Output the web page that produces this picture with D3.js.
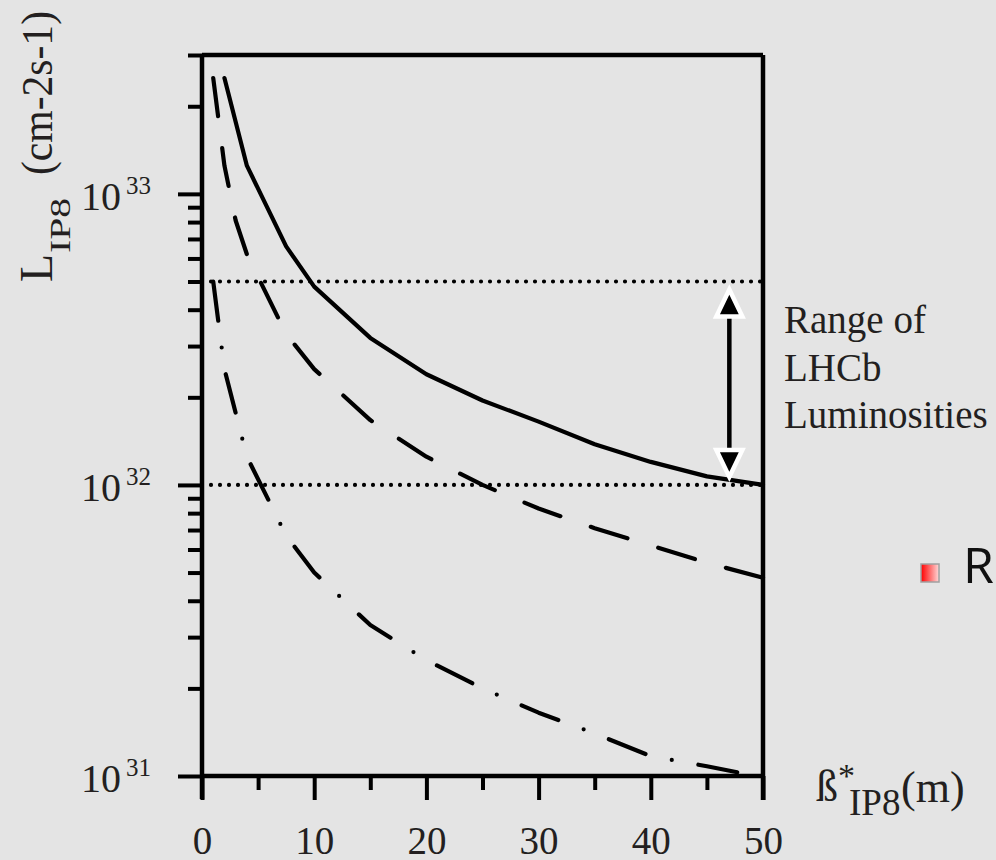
<!DOCTYPE html>
<html>
<head>
<meta charset="utf-8">
<script src="https://cdn.jsdelivr.net/npm/d3@7"></script>
<style>
	html, body { margin: 0; padding: 0; background: #e4e4e4; }
	svg { display: block; }
	text { white-space: pre; }
</style>
</head>
<body>
<div id="chart"></div>
<script>
"use strict";

// beta*IP8 (m) and L IP8 (cm-2 s-1)
var betaSolid = [2, 4, 7.5, 10, 15, 20, 25, 30, 35, 40, 45, 50];
var lumiSolid = [2.5e33, 1.25e33, 6.6e32, 4.8e32, 3.2e32, 2.4e32, 1.95e32, 1.65e32, 1.38e32, 1.2e32, 1.07e32, 1.0e32];
var betaDashed = [1, 2, 3, 4, 7.5, 10, 15, 20, 25, 30, 35, 40, 45, 50];
var lumiDashed = [2.5e33, 1.25e33, 8.1e32, 6.2e32, 3.3e32, 2.5e32, 1.67e32, 1.25e32, 1.0e32, 8.3e31, 7.1e31, 6.2e31, 5.4e31, 4.8e31];
var betaDashDot = [1, 2, 4, 7.5, 10, 15, 20, 25, 30, 35, 40, 45, 47.7];
var lumiDashDot = [5e32, 2.5e32, 1.25e32, 6.7e31, 5e31, 3.3e31, 2.5e31, 2e31, 1.65e31, 1.4e31, 1.17e31, 1.08e31, 1.03e31];

var xTicksMajor = [0, 10, 20, 30, 40, 50];
var xTicksMinor = [5, 15, 25, 35, 45];
var yTicksMajor = [1e31, 1e32, 1e33];
var lumiRange = [5e32, 1e32]; // dotted lines, LHCb range
var betaArrow = 47;
var rangeLabel = ["Range of", "LHCb", "Luminosities"];
var legendLabel = "R";

var W = 996, H = 860;
var SERIF = "'Liberation Serif', 'Times New Roman', Times, serif";
var INK = "#231f20";
var x = d3.scaleLinear().domain([0, 50]).range([202, 763]);
var y = d3.scaleLog().domain([1e31, 3e33]).range([776, 55]);

var svg = d3.select("#chart").append("svg")
	.attr("width", W)
	.attr("height", H)
	.attr("xmlns", "http://www.w3.org/2000/svg");

var defs = svg.append("defs");
var grad = defs.append("linearGradient").attr("id", "rouge");
grad.append("stop").attr("offset", "0%").attr("stop-color", "#ff0000");
grad.append("stop").attr("offset", "100%").attr("stop-color", "#ffd9d9");

// serif text, set inline so the axis defaults do not win
function serif (sel, size) {
	return sel.style("font-family", SERIF)
		.style("font-size", size + "px")
		.style("fill", INK);
}

// axes: ticks through d3.axis, no domain path
function styler (g) {
	g.attr("font-family", null).attr("font-size", null);
	g.select(".domain").remove();
	g.selectAll(".tick line").attr("stroke", "#000").attr("stroke-width", 4);
}

svg.append("g")
	.attr("transform", "translate(0," + y.range()[0] + ")")
	.call(d3.axisBottom(x).tickValues(xTicksMinor).tickSize(14).tickFormat(""))
	.call(styler);

svg.append("g")
	.attr("transform", "translate(0," + y.range()[0] + ")")
	.call(d3.axisBottom(x).tickValues(xTicksMajor).tickSize(24).tickPadding(26).tickFormat(d3.format("d")))
	.call(styler)
	.selectAll("text")
		.call(serif, 39);

var yMinor = y.ticks().filter(d => yTicksMajor.indexOf(d) < 0);

svg.append("g")
	.attr("transform", "translate(" + x.range()[0] + ",0)")
	.call(d3.axisLeft(y).tickValues(yMinor).tickSize(14).tickFormat(""))
	.call(styler);

svg.append("g")
	.attr("transform", "translate(" + x.range()[0] + ",0)")
	.call(d3.axisLeft(y).tickValues(yTicksMajor).tickSize(24).tickFormat(""))
	.call(styler);

// y labels 10^n
var yLab = svg.append("g").selectAll("g")
	.data(yTicksMajor)
	.enter()
		.append("g");
yLab.append("text")
	.attr("x", 121)
	.attr("y", d => y(d) + 16)
	.attr("text-anchor", "end")
	.call(serif, 40)
	.text("10");
yLab.append("text")
	.attr("x", 126)
	.attr("y", d => y(d))
	.call(serif, 25)
	.text(d => Math.round(Math.log10(d)));

// frame
var cadre = svg.append("g").attr("stroke", "#000").attr("stroke-width", 4.5);
cadre.append("line").attr("x1", x(0)).attr("x2", x(0)).attr("y1", y.range()[1]).attr("y2", 799);
cadre.append("line").attr("x1", x(50)).attr("x2", x(50)).attr("y1", y.range()[1]).attr("y2", 800);
cadre.append("line").attr("x1", x(0)).attr("x2", x(50)).attr("y1", y.range()[1]).attr("y2", y.range()[1]);
cadre.append("line").attr("x1", x(0)).attr("x2", x(50)).attr("y1", y.range()[0]).attr("y2", y.range()[0]);

// dotted range lines
svg.append("g").selectAll("line")
	.data(lumiRange)
	.enter()
		.append("line")
		.attr("x1", x(0) + 9)
		.attr("x2", x(50))
		.attr("y1", d => y(d))
		.attr("y2", d => y(d))
		.attr("stroke", "#000")
		.attr("stroke-width", 4.2)
		.attr("stroke-linecap", "round")
		.attr("stroke-dasharray", "0 9");

// curves
var trace = d3.line().x(d => x(d[0])).y(d => y(d[1]));
var courbes = [
	{ beta: betaSolid, lumi: lumiSolid, dash: null },
	{ beta: betaDashed, lumi: lumiDashed, dash: [37, 31] },
	{ beta: betaDashDot, lumi: lumiDashDot, dash: [38, 26, 0, 26] }
];
svg.append("g").selectAll("path")
	.data(courbes)
	.enter()
		.append("path")
		.attr("d", c => trace(c.beta.map((b, i) => [b, c.lumi[i]])))
		.attr("fill", "none")
		.attr("stroke", "#000")
		.attr("stroke-width", 4.2)
		.attr("stroke-linejoin", "round")
		.attr("stroke-linecap", "round")
		.each(function (c) {
			// stretch the pattern a little so that both ends carry a dash
			if (!c.dash) return;
			var lon = this.getTotalLength(),
				periode = d3.sum(c.dash),
				n = Math.max(1, Math.round((lon - c.dash[0]) / periode)),
				k = lon / (n * periode + c.dash[0]);
			d3.select(this).attr("stroke-dasharray", c.dash.map(v => v * k).join(" "));
		});

// double arrow for LHCb range
var xa = x(betaArrow),
	yHaut = y(lumiRange[0]) + 8,
	yBas = y(lumiRange[1]) - 8;
var fleche = svg.append("g");
fleche.append("line")
	.attr("x1", xa).attr("x2", xa)
	.attr("y1", yHaut + 20).attr("y2", yBas - 20)
	.attr("stroke", "#000")
	.attr("stroke-width", 4.5);
fleche.append("path")
	.attr("d", "M" + xa + "," + yHaut + "L" + (xa + 13) + "," + (yHaut + 27) + "L" + (xa - 13) + "," + (yHaut + 27) + "Z");
fleche.append("path")
	.attr("d", "M" + xa + "," + yBas + "L" + (xa + 13) + "," + (yBas - 27) + "L" + (xa - 13) + "," + (yBas - 27) + "Z");
fleche.selectAll("path")
	.attr("fill", "#000")
	.attr("stroke", "#fff")
	.attr("stroke-width", 4.5);

svg.append("g").selectAll("text")
	.data(rangeLabel)
	.enter()
		.append("text")
		.attr("x", 784)
		.attr("y", (d, i) => 333 + i * 47.5)
		.call(serif, 39)
		.text(d => d);

// y title
var yTitre = svg.append("text")
	.attr("transform", "translate(52,282) rotate(-90)")
	.call(serif, 46);
yTitre.append("tspan").attr("x", 0).attr("y", 0).text("L");
yTitre.append("tspan").attr("x", 29).attr("y", 18).style("font-size", "30px")
	.attr("textLength", 55).attr("lengthAdjust", "spacingAndGlyphs").text("IP8");
yTitre.append("tspan").attr("x", 107).attr("y", 0).style("font-size", "44px")
	.attr("textLength", 164).attr("lengthAdjust", "spacingAndGlyphs").text("(cm-2s-1)");

// x title
var xTitre = svg.append("text").call(serif, 44);
xTitre.append("tspan").attr("x", 816).attr("y", 801).text("ß");
xTitre.append("tspan").attr("x", 838).attr("y", 787).style("font-size", "34px").text("*");
xTitre.append("tspan").attr("x", 849).attr("y", 815).style("font-size", "37px").text("IP8");
xTitre.append("tspan").attr("x", 901).attr("y", 802).text("(m)");

// legend entry, cut by the right edge
svg.append("rect")
	.attr("x", 921).attr("y", 564)
	.attr("width", 18).attr("height", 18)
	.attr("fill", "url(#rouge)")
	.attr("stroke", "#a0a0a0")
	.attr("stroke-width", 1.5);
svg.append("text")
	.attr("x", 963).attr("y", 583)
	.style("font-size", "50px")
	.style("font-family", "'Open Sans', 'Noto Sans', sans-serif")
	.style("fill", "#111")
	.text(legendLabel);
</script>
</body>
</html>
